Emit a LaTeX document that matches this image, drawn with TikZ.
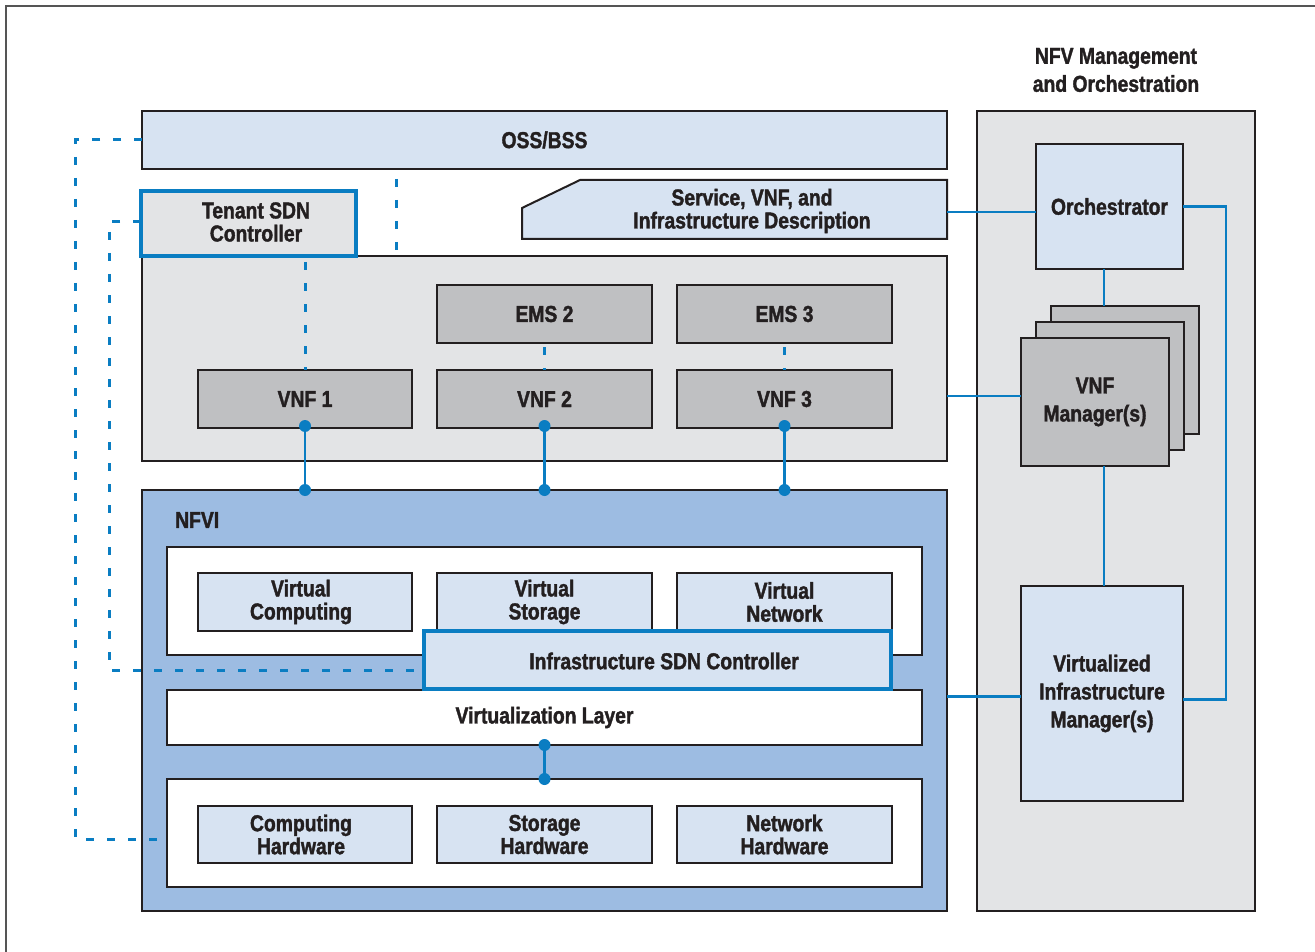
\documentclass[tikz,border=0pt]{standalone}
\usepackage{fontspec}
\setmainfont{Liberation Sans}
\newfontfamily\cfont[FakeStretch=0.84, FakeBold=1.6]{Liberation Sans Bold}
\usetikzlibrary{calc}
\definecolor{lblue}{HTML}{D7E3F2}
\definecolor{cont}{HTML}{E3E4E6}
\definecolor{dgray}{HTML}{BFC0C2}
\definecolor{nfviblue}{HTML}{9DBCE2}
\definecolor{lnblue}{HTML}{0A7DC2}
\definecolor{bord}{HTML}{231F20}
\definecolor{frame}{HTML}{555555}
\tikzset{
  box/.style={draw=bord, line width=2pt, inner sep=0pt, outer sep=0pt, align=center,
    text=bord, font=\cfont\fontsize{23}{23}\selectfont},
  sdnbox/.style={box, draw=lnblue, line width=4.5pt},
  conn/.style={draw=lnblue, line width=2.2pt},
  dashconn/.style={draw=lnblue, line width=3pt, dash pattern=on 8pt off 13pt},
  lbl/.style={inner sep=0pt, align=center, text=bord, font=\cfont\fontsize{23}{28}\selectfont},
}
\begin{document}
\begin{tikzpicture}[x=1pt,y=-1pt]
\useasboundingbox (0,0) rectangle (1315,952);
\fill[white] (0,0) rectangle (1315,952);
\draw[frame, line width=2pt] (6,952) -- (6,6) -- (1315,6);

% MANO
\node[lbl] (title) at (1116,70) {NFV Management\\and Orchestration};
\node[box, fill=cont, minimum width=278pt, minimum height=800pt] (mano) at (1116,511) {};

% OSS
\node[box, fill=lblue, minimum width=805pt, minimum height=58pt] (oss) at (544.5,140) {OSS/BSS};

% VNF container
\node[box, fill=cont, minimum width=805pt, minimum height=205pt] (vnfc) at (544.5,358.5) {};
\node[sdnbox, fill=cont, minimum width=215pt, minimum height=65pt] (tenant) at (248.5,223.5) {};
\node[lbl, font=\cfont\fontsize{23}{23}\selectfont] (tenantlbl) at (256,222) {Tenant SDN\\Controller};

% Service description
\draw[bord, line width=2pt, fill=lblue] (580,180) -- (947,180) -- (947,239) -- (522,239) -- (522,208) -- cycle;
\node[lbl, font=\cfont\fontsize{23}{23}\selectfont] (sdesc) at (752,211) {Service, VNF, and\\Infrastructure Description};
\coordinate (sdesc-e) at (947,212);

\node[box, fill=dgray, minimum width=215pt, minimum height=58pt] (ems2) at (544.5,314) {EMS 2};
\node[box, fill=dgray, minimum width=215pt, minimum height=58pt] (ems3) at (784.5,314) {EMS 3};
\node[box, fill=dgray, minimum width=214pt, minimum height=58pt] (vnf1) at (305,399) {VNF 1};
\node[box, fill=dgray, minimum width=215pt, minimum height=58pt] (vnf2) at (544.5,399) {VNF 2};
\node[box, fill=dgray, minimum width=215pt, minimum height=58pt] (vnf3) at (784.5,399) {VNF 3};

% NFVI
\node[box, fill=nfviblue, minimum width=805pt, minimum height=421pt] (nfvi) at (544.5,700.5) {};
\node[lbl, anchor=west, font=\cfont\fontsize{23}{23}\selectfont] (nfvilbl) at (175,520) {NFVI};
\node[box, fill=white, minimum width=755pt, minimum height=108pt] (vres) at (544.5,601) {};
\node[box, fill=lblue, minimum width=214pt, minimum height=58pt] (vcomp) at (305,602) {Virtual\hspace*{8pt}\\Computing\hspace*{8pt}};
\node[box, fill=lblue, minimum width=215pt, minimum height=58pt] (vstor) at (544.5,602) {Virtual\\Storage};
\node[box, fill=lblue, minimum width=215pt, minimum height=58pt] (vnet) at (784.5,602) {Virtual\\Network};
\node[box, fill=white, minimum width=755pt, minimum height=55pt] (vlayer) at (544.5,717.5) {Virtualization Layer};
\node[box, fill=white, minimum width=755pt, minimum height=108pt] (hw) at (544.5,833) {};
\node[box, fill=lblue, minimum width=214pt, minimum height=57pt] (chw) at (305,834.5) {Computing\hspace*{8pt}\\Hardware\hspace*{8pt}};
\node[box, fill=lblue, minimum width=215pt, minimum height=57pt] (shw) at (544.5,834.5) {Storage\\Hardware};
\node[box, fill=lblue, minimum width=215pt, minimum height=57pt] (nhw) at (784.5,834.5) {Network\\Hardware};
\node[sdnbox, fill=lblue, minimum width=467pt, minimum height=58pt] (infra) at (657.5,660) {};
\node[lbl] (infralbl) at (664,661) {Infrastructure SDN Controller};

% MANO boxes
\node[box, fill=lblue, minimum width=147pt, minimum height=125pt] (orch) at (1109.5,206.5) {Orchestrator};
\node[box, fill=dgray, minimum width=148pt, minimum height=128pt] (vnfm3) at (1125,370) {};
\node[box, fill=dgray, minimum width=148pt, minimum height=128pt] (vnfm2) at (1110,386) {};
\node[box, fill=dgray, minimum width=148pt, minimum height=128pt, font=\cfont\fontsize{23}{28}\selectfont] (vnfm) at (1095,402) {VNF\\Manager(s)};
\node[box, fill=lblue, minimum width=162pt, minimum height=215pt, font=\cfont\fontsize{23}{28}\selectfont] (vim) at (1102,693.5) {Virtualized\\Infrastructure\\Manager(s)};

% solid connectors
\coordinate (mx) at (1104,0);
\coordinate (lp) at (1226,0);
\draw[conn] (sdesc-e) -- (sdesc-e -| orch.west);
\draw[conn] (orch.south -| mx) -- (vnfm3.north -| mx);
\draw[conn] (vnfm.south -| mx) -- (vim.north -| mx);
\draw[conn] ([yshift=6pt]vnfm.west) -- ([yshift=6pt]vnfm.west -| vnfc.east);
\draw[conn] ([yshift=-3pt]vim.west) -- ([yshift=-3pt]vim.west -| nfvi.east);
\draw[conn] (orch.east) -- (orch.east -| lp) -- ([yshift=-6pt]vim.east -| lp) -- ([yshift=-6pt]vim.east);

\foreach \v in {vnf1,vnf2,vnf3}{
  \draw[conn] ([yshift=2pt]\v.south) -- (\v.south |- nfvi.north);
  \fill[lnblue] ([yshift=2pt]\v.south) circle (6);
  \fill[lnblue] (\v.south |- nfvi.north) circle (6);
}
\draw[conn] (vlayer.south) -- (hw.north);
\fill[lnblue] (vlayer.south) circle (6);
\fill[lnblue] (hw.north) circle (6);

% dashed connectors
\coordinate (d1) at (75,0);
\coordinate (d2) at (109,0);
\coordinate (d3) at (396,0);
\draw[dashconn] (oss.west) -- (oss.west -| d1) -- ([yshift=-6pt]hw.west -| d1) -- ([yshift=-6pt]hw.west);
\draw[dashconn] ([yshift=1.5pt]tenant.west) -- ([yshift=1.5pt]tenant.west -| d2) -- ([yshift=-10pt]infra.west -| d2) -- ([yshift=-10pt]infra.west);
\draw[dashconn, dash phase=-10pt] (oss.south -| d3) -- (vnfc.north -| d3);
\draw[dashconn, dash phase=-6pt] (tenant.south -| vnf1.north) -- (vnf1.north);
\draw[dashconn, dash phase=-4pt] (ems2.south) -- (vnf2.north);
\draw[dashconn, dash phase=-4pt] (ems3.south) -- (vnf3.north);
\end{tikzpicture}
\end{document}
